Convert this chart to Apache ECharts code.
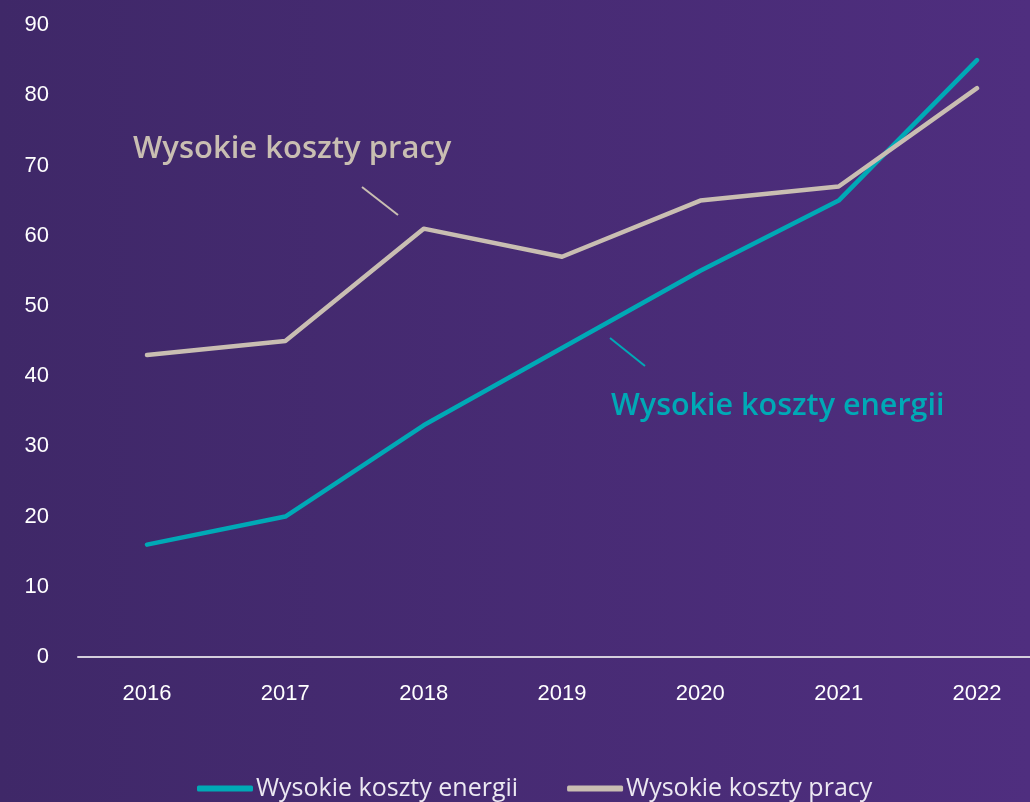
<!DOCTYPE html>
<html>
<head>
<meta charset="utf-8">
<script src="https://cdn.jsdelivr.net/npm/echarts@6/dist/echarts.min.js"></script>
<style>
  html, body { margin: 0; padding: 0; }
  #main { width: 1030px; height: 802px; }
</style>
</head>
<body>
<div id="main"></div>
<script>
var years = ['2016', '2017', '2018', '2019', '2020', '2021', '2022'];
var energyCosts = [16, 20, 33, 44, 55, 65, 85];
var labourCosts = [43, 45, 61, 57, 65, 67, 81];
var yTicks = [0, 10, 20, 30, 40, 50, 60, 70, 80, 90];
var seriesNames = ['Wysokie koszty energii', 'Wysokie koszty pracy'];
var colors = ['#00a9b6', '#c9beb2'];

var chart = echarts.init(document.getElementById('main'));

// grid 0 only carries the long baseline, grid 1 holds the data
var option = {
    backgroundColor: new echarts.graphic.LinearGradient(0, 0, 1, 0, [
        { offset: 0, color: '#3f2868' },
        { offset: 1, color: '#4f2e7f' }
    ]),
    color: colors,
    animation: false,
    grid: [
        { left: 78, right: 0, top: 25, bottom: 145 },
        { left: 147, right: 53, top: 25, bottom: 145 }
    ],
    legend: {
        bottom: -4,
        left: 192,
        icon: 'roundRect',
        itemWidth: 56,
        itemHeight: 6,
        itemGap: 49,
        textStyle: {
            color: '#ece8f2',
            fontSize: 25,
            fontFamily: 'Open Sans',
            padding: [0, 0, 0, -2]
        },
        data: seriesNames
    },
    xAxis: [
        {
            type: 'category',
            gridIndex: 0,
            data: [],
            axisLine: { lineStyle: { color: '#d4cedc', width: 2 } },
            axisTick: { show: false },
            axisLabel: { show: false }
        },
        {
            type: 'category',
            gridIndex: 1,
            data: years,
            boundaryGap: false,
            axisLine: { show: false },
            axisTick: { show: false },
            axisLabel: {
                color: '#ffffff',
                fontSize: 22,
                fontFamily: 'Liberation Sans',
                margin: 26
            }
        }
    ],
    yAxis: [
        {
            type: 'value',
            gridIndex: 0,
            min: 0,
            max: 90,
            show: false
        },
        {
            type: 'value',
            gridIndex: 1,
            min: yTicks[0],
            max: yTicks[yTicks.length - 1],
            interval: 10,
            splitLine: { show: false },
            axisLine: { show: false },
            axisLabel: {
                color: '#ffffff',
                fontSize: 22,
                fontFamily: 'Liberation Sans',
                margin: 98
            }
        }
    ],
    series: [
        {
            name: seriesNames[0],
            type: 'line',
            xAxisIndex: 1,
            yAxisIndex: 1,
            data: energyCosts,
            showSymbol: false,
            symbol: 'none',
            lineStyle: { width: 4.5, cap: 'round', join: 'round' }
        },
        {
            name: seriesNames[1],
            type: 'line',
            xAxisIndex: 1,
            yAxisIndex: 1,
            data: labourCosts,
            showSymbol: false,
            symbol: 'none',
            lineStyle: { width: 4.5, cap: 'round', join: 'round' }
        }
    ],
    graphic: [
        {
            type: 'text',
            left: 133,
            top: 134,
            style: {
                text: 'Wysokie koszty pracy',
                fill: colors[1],
                font: '600 31px "Open Sans"'
            }
        },
        {
            type: 'line',
            shape: { x1: 362, y1: 187, x2: 398, y2: 215 },
            style: { stroke: colors[1], lineWidth: 2 }
        },
        {
            type: 'text',
            left: 611,
            top: 391,
            style: {
                text: 'Wysokie koszty energii',
                fill: colors[0],
                font: '600 30.5px "Open Sans"'
            }
        },
        {
            type: 'line',
            shape: { x1: 610, y1: 338, x2: 645, y2: 366 },
            style: { stroke: colors[0], lineWidth: 2 }
        }
    ]
};

chart.setOption(option);
</script>
</body>
</html>
